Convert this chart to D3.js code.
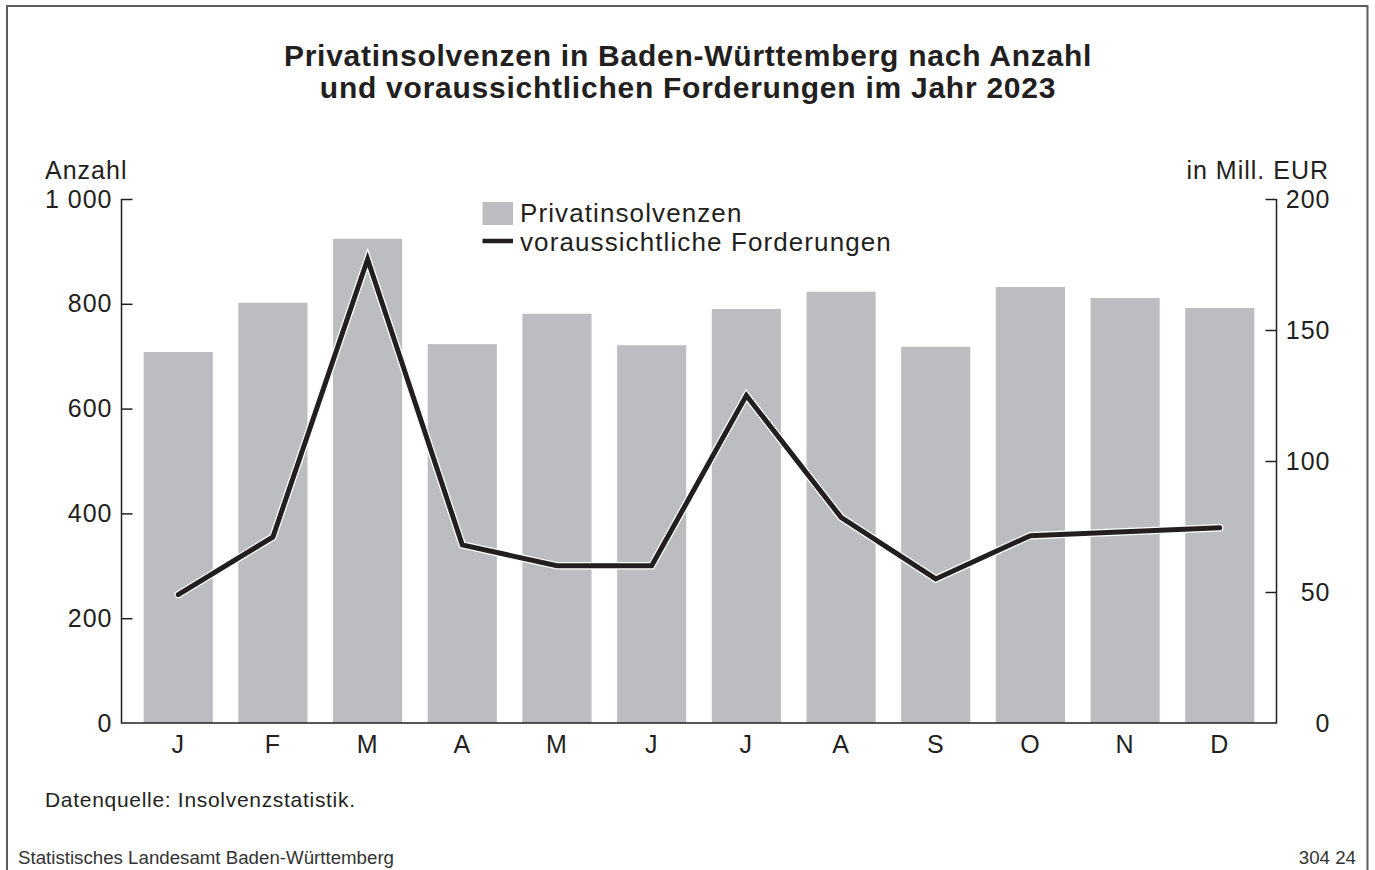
<!DOCTYPE html>
<html>
<head>
<meta charset="utf-8">
<script src="https://cdn.jsdelivr.net/npm/d3@7"></script>
<style>
  body { margin: 0; background: #fff; }
  svg { display: block; font-family: "Liberation Sans", Arial, sans-serif; }
</style>
</head>
<body>
<svg id="chart" width="1375" height="870"></svg>
<script>
// month labels and the two series
const months = ['J', 'F', 'M', 'A', 'M', 'J', 'J', 'A', 'S', 'O', 'N', 'D'];
const insolvenzen = [708, 802, 924, 723, 781, 721, 790, 823, 718, 832, 811, 792];
const forderungen = [49, 71, 177, 68, 60, 60, 125, 78.5, 55, 71.5, 73, 74.5];
const leftTicks = [0, 200, 400, 600, 800, 1000];
const rightTicks = [0, 50, 100, 150, 200];

const ink = '#231f20';
const barFill = '#bcbdc1';

const svg = d3.select('#chart');

// frame round the whole graphic (open at the bottom)
svg.append('path')
    .attr('d', 'M7,870V6H1367.5V870')
    .attr('fill', 'none')
    .attr('stroke', '#5b5b5b')
    .attr('stroke-width', 2);

// title
const title = svg.append('text')
    .attr('text-anchor', 'middle')
    .attr('font-weight', 'bold')
    .attr('font-size', 30)
    .attr('letter-spacing', 0.75)
    .attr('fill', ink);
title.append('tspan').attr('x', 688).attr('y', 66)
    .text('Privatinsolvenzen in Baden-Württemberg nach Anzahl');
title.append('tspan').attr('x', 688).attr('y', 98)
    .text('und voraussichtlichen Forderungen im Jahr 2023');

const pLeft = 121.5, pRight = 1276.5, pTop = 199, pBottom = 723;

const x = d3.scaleBand()
    .domain(d3.range(months.length))
    .range([pLeft, pRight])
    .paddingInner(0.27)
    .paddingOuter(0.234);

const yL = d3.scaleLinear().domain([0, 1000]).range([pBottom, pTop]);
const yR = d3.scaleLinear().domain([0, 200]).range([pBottom, pTop]);

// bars
svg.append('g')
    .selectAll('rect')
    .data(insolvenzen)
    .join('rect')
    .attr('x', (d, i) => x(i))
    .attr('y', d => yL(d))
    .attr('width', x.bandwidth())
    .attr('height', d => yL(0) - yL(d))
    .attr('fill', barFill);

// line with a thin white halo
const line = d3.line()
    .x((d, i) => x(i) + x.bandwidth() / 2)
    .y(d => yR(d));

svg.append('path')
    .datum(forderungen)
    .attr('d', line)
    .attr('fill', 'none')
    .attr('stroke', '#fff')
    .attr('stroke-width', 7.5)
    .attr('stroke-linejoin', 'miter')
    .attr('stroke-linecap', 'round');

svg.append('path')
    .datum(forderungen)
    .attr('d', line)
    .attr('fill', 'none')
    .attr('stroke', ink)
    .attr('stroke-width', 5)
    .attr('stroke-linejoin', 'miter')
    .attr('stroke-linecap', 'round');

// axes
const styleAxis = g => {
    g.selectAll('path, line').attr('stroke', ink).attr('stroke-width', 1.5);
    g.selectAll('text')
        .attr('fill', ink)
        .attr('font-size', 25)
        .attr('letter-spacing', 1)
        .attr('font-family', '"Liberation Sans", Arial, sans-serif');
};

const axL = svg.append('g')
    .attr('transform', `translate(${pLeft},0)`)
    .call(d3.axisLeft(yL)
        .tickValues(leftTicks)
        .tickSize(-11)
        .tickPadding(9)
        .tickFormat(d => d3.format(',')(d).replace(',', ' ')));
styleAxis(axL);
axL.select('.domain').remove();
axL.selectAll('.tick').filter(d => d === 0).select('line').remove();

const axR = svg.append('g')
    .attr('transform', `translate(${pRight},0)`)
    .call(d3.axisRight(yR)
        .tickValues(rightTicks)
        .tickSize(-11)
        .tickPadding(54));
styleAxis(axR);
axR.select('.domain').remove();
axR.selectAll('.tick').filter(d => d === 0).select('line').remove();
axR.selectAll('text').attr('text-anchor', 'end');

// vertical axis lines and baseline
svg.append('path')
    .attr('d', `M${pLeft},${pTop}V${pBottom}H${pRight}V${pTop}`)
    .attr('fill', 'none')
    .attr('stroke', ink)
    .attr('stroke-width', 1.5);

const axB = svg.append('g')
    .attr('transform', `translate(0,${pBottom})`)
    .call(d3.axisBottom(x)
        .tickSize(0)
        .tickPadding(12)
        .tickFormat(i => months[i]));
styleAxis(axB);
axB.select('.domain').remove();

// axis titles
svg.append('text')
    .attr('x', 45).attr('y', 179)
    .attr('font-size', 25).attr('letter-spacing', 1)
    .attr('fill', ink)
    .text('Anzahl');

svg.append('text')
    .attr('x', 1329).attr('y', 179)
    .attr('text-anchor', 'end')
    .attr('font-size', 25).attr('letter-spacing', 1)
    .attr('fill', ink)
    .text('in Mill. EUR');

// legend
const legend = svg.append('g').attr('fill', ink).attr('font-size', 26).attr('letter-spacing', 1.1);
legend.append('rect')
    .attr('x', 482.5).attr('y', 202)
    .attr('width', 30.5).attr('height', 23)
    .attr('fill', barFill);
legend.append('text').attr('x', 520).attr('y', 222).text('Privatinsolvenzen');
legend.append('line')
    .attr('x1', 482.5).attr('x2', 513)
    .attr('y1', 241).attr('y2', 241)
    .attr('stroke', ink)
    .attr('stroke-width', 4.5);
legend.append('text').attr('x', 520).attr('y', 251).text('voraussichtliche Forderungen');

// source and footer
svg.append('text')
    .attr('x', 45).attr('y', 807)
    .attr('font-size', 21).attr('letter-spacing', 0.7)
    .attr('fill', ink)
    .text('Datenquelle: Insolvenzstatistik.');

svg.append('text')
    .attr('x', 18).attr('y', 864)
    .attr('font-size', 18.7)
    .attr('fill', '#333')
    .text('Statistisches Landesamt Baden-Württemberg');

svg.append('text')
    .attr('x', 1356).attr('y', 864)
    .attr('text-anchor', 'end')
    .attr('font-size', 18.7)
    .attr('fill', '#333')
    .text('304 24');
</script>
</body>
</html>
